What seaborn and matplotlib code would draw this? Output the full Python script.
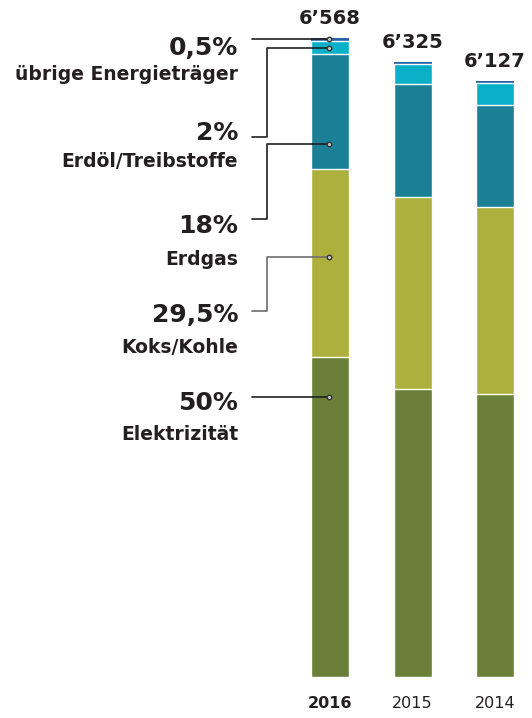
import numpy as np
import pandas as pd
import matplotlib
matplotlib.use("Agg")
import matplotlib.pyplot as plt
import seaborn as sns

# ---- data ----
years = ["2016", "2015", "2014"]
elektrizitaet = [3284, 2960, 2910]
koks_kohle = [1938, 1973, 1922]
erdgas = [1182, 1161, 1048]
erdoel = [131, 205, 226]
uebrige = [33, 26, 21]
totals = [6568, 6325, 6127]

shares_2016 = ["50%", "29,5%", "18%", "2%", "0,5%"]
category_names = ["Elektrizität", "Koks/Kohle", "Erdgas", "Erdöl/Treibstoffe", "übrige Energieträger"]
colors = ["#6A7F38", "#AEB03E", "#1B7F95", "#0AB0C8", "#2A62A5"]

sns.set_style("white")
plt.rcParams["font.family"] = ["DejaVu Sans"]
TXT = "#231F20"

W, H = 532, 718
fig = plt.figure(figsize=(W / 100, H / 100), dpi=100)
base_px = 41
ax = fig.add_axes([0, base_px / H, 1, (H - base_px) / H])

df = pd.DataFrame({"year": years, "Elektrizität": elektrizitaet, "Koks/Kohle": koks_kohle,
                   "Erdgas": erdgas, "Erdöl/Treibstoffe": erdoel, "übrige Energieträger": uebrige})
layers = [elektrizitaet, koks_kohle, erdgas, erdoel, uebrige]
cum = np.cumsum(np.array(layers), axis=0)

# draw from the tallest cumulative stack down so lower segments overlay
for i in range(len(layers) - 1, -1, -1):
    top = i == len(layers) - 1
    sns.barplot(x=years, y=cum[i], order=years, color=colors[i], saturation=1,
                width=0.46, edgecolor="none" if top else "white",
                linewidth=0 if top else 1.0, ax=ax)

ax.set_xlim(-4.0, 2.448)
ax.set_ylim(0, 6958)
for s in ax.spines.values():
    s.set_visible(False)
ax.set_yticks([])
ax.set_ylabel("")
ax.set_xlabel("")
ax.tick_params(axis="x", length=0, pad=14)
ax.set_xticks(range(len(years)))
ax.set_xticklabels(years, fontsize=11.5, color=TXT)
ax.get_xticklabels()[0].set_fontweight("bold")

# totals above bars
for xi, t in enumerate(totals):
    ax.annotate(f"{t:,}".replace(",", "’"), (xi, t), xytext=(0, 10), textcoords="offset points",
                ha="center", va="baseline", fontsize=14, fontweight="bold", color=TXT)

# left labels (pixel positions from top)
def fx(x):
    return x / W

def fy(y):
    return 1 - y / H

pct_base = [410, 322, 233, 140, 55]
name_base = [440, 353, 265, 167, 80]
for i in range(5):
    fig.text(fx(238), fy(pct_base[i]), shares_2016[i], ha="right", va="baseline",
             fontsize=18, fontweight="bold", color=TXT)
    fig.text(fx(238), fy(name_base[i]), category_names[i], ha="right", va="baseline",
             fontsize=13.5, fontweight="bold", color=TXT)

# connector lines
dot_x = 329
conns = [
    ([252, dot_x], [397, 397], TXT),
    ([252, 267, 267, dot_x], [311, 311, 257, 257], "#6d6d6d"),
    ([252, 267, 267, dot_x], [219, 219, 144, 144], TXT),
    ([252, 267, 267, dot_x], [137, 137, 48, 48], TXT),
    ([252, dot_x], [39, 39], TXT),
]
for xs, ys, c in conns:
    fig.add_artist(plt.Line2D([fx(v) for v in xs], [fy(v) for v in ys], color=c, lw=1.2,
                              transform=fig.transFigure))
    fig.add_artist(plt.Line2D([fx(xs[-1])], [fy(ys[-1])], marker="o", markersize=3.2,
                              mfc="#cccccc", mec="#333333", mew=1.0, lw=0,
                              transform=fig.transFigure))

fig.savefig("out.png", dpi=100)
